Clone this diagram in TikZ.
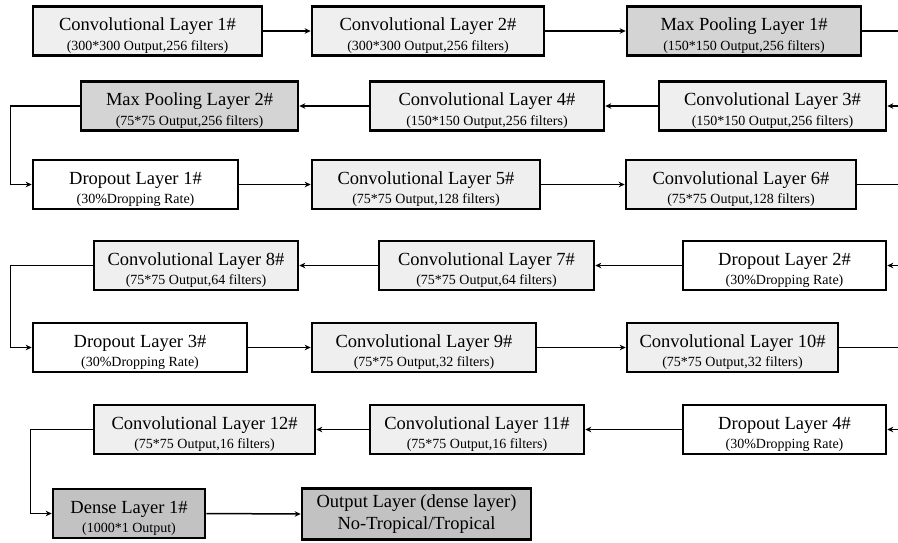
\documentclass[tikz,border=0pt]{standalone}
\usepackage{fontspec}
\setmainfont{Liberation Serif}
\usetikzlibrary{arrows.meta}
\definecolor{convfill}{RGB}{239,239,239}
\definecolor{poolfill}{RGB}{212,212,212}
\definecolor{densefill}{RGB}{194,194,194}
\newcommand{\ttlf}{\fontsize{18.5}{20}\selectfont}
\newcommand{\subf}{\fontsize{14}{20}\selectfont}
\newcommand{\lay}[2]{\ttlf\rule{0pt}{22pt}#1\\[5pt]\subf #2}
\begin{document}
\begin{tikzpicture}[x=1pt,y=-1pt,
  layer/.style={draw=black,line width=2.6pt,inner sep=0pt,align=center,minimum height=49pt},
  convbox/.style={layer,fill=convfill},
  poolbox/.style={layer,fill=poolfill},
  dropbox/.style={layer,fill=white},
  densebox/.style={layer,fill=densefill},
  conn/.style={draw=black,line width=1.5pt,-{Stealth[length=6pt,width=5.5pt]}}]
\clip (0,0) rectangle (898,542);
\fill[white] (0,0) rectangle (898,542);
% row 1
\node[convbox,minimum width=229pt] (c1) at (147.5,31) {\lay{Convolutional Layer 1\#}{(300*300 Output,256 filters)}};
\node[convbox,minimum width=232pt] (c2) at (428,31) {\lay{Convolutional Layer 2\#}{(300*300 Output,256 filters)}};
\node[poolbox,minimum width=234pt] (mp1) at (744,31) {\lay{Max Pooling Layer 1\#}{(150*150 Output,256 filters)}};
% row 2
\node[poolbox,minimum width=217pt] (mp2) at (189.5,106) {\lay{Max Pooling Layer 2\#}{(75*75 Output,256 filters)}};
\node[convbox,minimum width=234pt] (c4) at (487,106) {\lay{Convolutional Layer 4\#}{(150*150 Output,256 filters)}};
\node[convbox,minimum width=227pt] (c3) at (772.5,106) {\lay{Convolutional Layer 3\#}{(150*150 Output,256 filters)}};
% row 3
\node[dropbox,minimum width=205pt] (d1) at (135.5,184.5) {\lay{Dropout Layer 1\#}{(30\%Dropping Rate)}};
\node[convbox,minimum width=228pt] (c5) at (426,184.5) {\lay{Convolutional Layer 5\#}{(75*75 Output,128 filters)}};
\node[convbox,minimum width=230pt] (c6) at (741,184.5) {\lay{Convolutional Layer 6\#}{(75*75 Output,128 filters)}};
% row 4
\node[convbox,minimum width=204pt] (c8) at (196,265.5) {\lay{Convolutional Layer 8\#}{(75*75 Output,64 filters)}};
\node[convbox,minimum width=215pt] (c7) at (486.5,265.5) {\lay{Convolutional Layer 7\#}{(75*75 Output,64 filters)}};
\node[dropbox,minimum width=203pt] (d2) at (784.5,265.5) {\lay{Dropout Layer 2\#}{(30\%Dropping Rate)}};
% row 5
\node[dropbox,minimum width=214pt] (d3) at (140,347.5) {\lay{Dropout Layer 3\#}{(30\%Dropping Rate)}};
\node[convbox,minimum width=224pt] (c9) at (424,347.5) {\lay{Convolutional Layer 9\#}{(75*75 Output,32 filters)}};
\node[convbox,minimum width=211pt] (c10) at (732.5,347.5) {\lay{Convolutional Layer 10\#}{(75*75 Output,32 filters)}};
% row 6
\node[convbox,minimum width=221pt] (c12) at (204.5,429.5) {\lay{Convolutional Layer 12\#}{(75*75 Output,16 filters)}};
\node[convbox,minimum width=214pt] (c11) at (477,429.5) {\lay{Convolutional Layer 11\#}{(75*75 Output,16 filters)}};
\node[dropbox,minimum width=203pt] (d4) at (784.5,429.5) {\lay{Dropout Layer 4\#}{(30\%Dropping Rate)}};
% row 7
\node[densebox,minimum width=152pt] (dn) at (129,513.5) {\lay{Dense Layer 1\#}{(1000*1 Output)}};
\node[densebox,minimum width=229pt,minimum height=51pt,font=\fontsize{18.5}{22}\selectfont] (out) at (416.5,514) {Output Layer (dense layer)\\No-Tropical/Tropical};
% connectors
\draw[conn] (c1.east) -- (c2.west);
\draw[conn] (c2.east) -- (mp1.west);
\draw[conn] (mp1.east) -- ++(60,0) |- (c3.east);
\draw[conn] (c3.west) -- (c4.east);
\draw[conn] (c4.west) -- (mp2.east);
\draw[conn] (mp2.west) -- ++(-69,0) |- (d1.west);
\draw[conn] (d1.east) -- (c5.west);
\draw[conn] (c5.east) -- (c6.west);
\draw[conn] (c6.east) -- ++(60,0) |- (d2.east);
\draw[conn] (d2.west) -- (c7.east);
\draw[conn] (c7.west) -- (c8.east);
\draw[conn] (c8.west) -- ++(-82,0) |- (d3.west);
\draw[conn] (d3.east) -- (c9.west);
\draw[conn] (c9.east) -- (c10.west);
\draw[conn] (c10.east) -- ++(80,0) |- (d4.east);
\draw[conn] (d4.west) -- (c11.east);
\draw[conn] (c11.west) -- (c12.east);
\draw[conn] (c12.west) -- ++(-62,0) |- (dn.west);
\draw[conn] (dn.east) -- (out.west);
\end{tikzpicture}
\end{document}
